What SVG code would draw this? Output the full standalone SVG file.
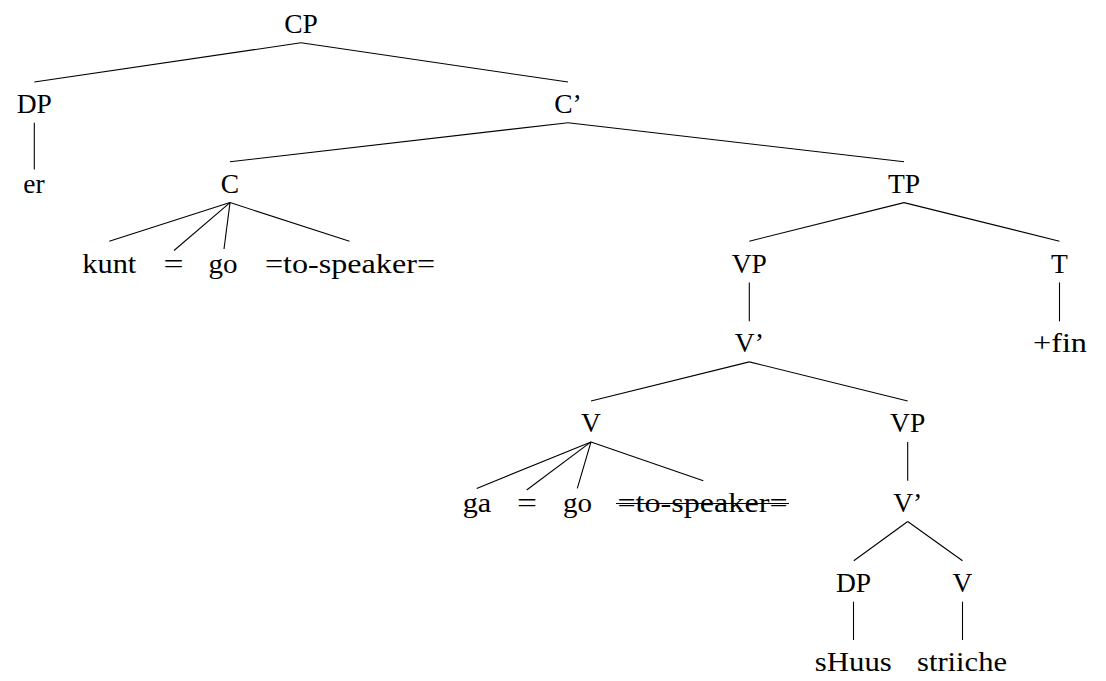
<svg xmlns="http://www.w3.org/2000/svg" width="1106" height="681" viewBox="0 0 1106 681">
  <style>
    .lbl { font-family: "Liberation Serif", "Times New Roman", serif; font-size: 27.5px; fill: #000; text-anchor: middle; }
    .edge { stroke: #000; stroke-width: 1.1; fill: none; }
    .strike { stroke: #000; stroke-width: 1; }
  </style>
  <rect width="1106" height="681" fill="#fff"/>

  <!-- tree edges: parent south anchor to child north anchor -->
  <g id="edges">
    <line class="edge" x1="301" y1="42.8" x2="34.3" y2="82"/>
    <line class="edge" x1="301" y1="42.8" x2="568" y2="82"/>
    <line class="edge" x1="34.3" y1="122.7" x2="34.3" y2="169.5"/>
    <line class="edge" x1="568" y1="122.7" x2="230" y2="161.7"/>
    <line class="edge" x1="568" y1="122.7" x2="904" y2="161.7"/>
    <line class="edge" x1="230" y1="202.6" x2="109.3" y2="241.2"/>
    <line class="edge" x1="230" y1="202.6" x2="174" y2="250.5"/>
    <line class="edge" x1="230" y1="202.6" x2="224" y2="249"/>
    <line class="edge" x1="230" y1="202.6" x2="349.5" y2="241.2"/>
    <line class="edge" x1="904" y1="202.6" x2="749.3" y2="241.2"/>
    <line class="edge" x1="904" y1="202.6" x2="1059.5" y2="241.2"/>
    <line class="edge" x1="749.3" y1="282.4" x2="749.3" y2="321.3"/>
    <line class="edge" x1="1059.5" y1="282.4" x2="1059.5" y2="321.3"/>
    <line class="edge" x1="749.3" y1="361.9" x2="591" y2="401"/>
    <line class="edge" x1="749.3" y1="361.9" x2="907.7" y2="401"/>
    <line class="edge" x1="591" y1="441.9" x2="476.7" y2="488.4"/>
    <line class="edge" x1="591" y1="441.9" x2="526.7" y2="490"/>
    <line class="edge" x1="591" y1="441.9" x2="577.3" y2="488.4"/>
    <line class="edge" x1="591" y1="441.9" x2="703.3" y2="480.7"/>
    <line class="edge" x1="907.7" y1="441.9" x2="907.7" y2="480.7"/>
    <line class="edge" x1="907.7" y1="521.5" x2="853.8" y2="560.7"/>
    <line class="edge" x1="907.7" y1="521.5" x2="962.5" y2="560.7"/>
    <line class="edge" x1="853.5" y1="601.7" x2="853.5" y2="640"/>
    <line class="edge" x1="962.5" y1="601.7" x2="962.5" y2="640"/>
  </g>

  <!-- level 1 -->
  <g id="n-cp"><text class="lbl" x="301" y="33.3">CP</text></g>
  <!-- level 2 -->
  <g id="n-dp1"><text class="lbl" x="34.3" y="113.3">DP</text></g>
  <g id="n-cbar"><text class="lbl" x="568" y="113.3">C’</text></g>
  <!-- level 3 -->
  <g id="n-er"><text class="lbl" x="34" y="192.5">er</text></g>
  <g id="n-c"><text class="lbl" x="230" y="193">C</text></g>
  <g id="n-tp"><text class="lbl" x="904" y="193">TP</text></g>
  <!-- level 4 -->
  <g id="n-kunt"><text class="lbl" x="109.3" y="272.5" textLength="54" lengthAdjust="spacingAndGlyphs">kunt</text></g>
  <g id="n-eq1"><text class="lbl" x="173.5" y="272.5" textLength="20" lengthAdjust="spacingAndGlyphs">=</text></g>
  <g id="n-go1"><text class="lbl" x="223" y="272.5" textLength="29" lengthAdjust="spacingAndGlyphs">go</text></g>
  <g id="n-tospk1"><text class="lbl" x="350" y="272.5" textLength="170" lengthAdjust="spacingAndGlyphs">=to-speaker=</text></g>
  <g id="n-vp1"><text class="lbl" x="749.3" y="272.5">VP</text></g>
  <g id="n-t"><text class="lbl" x="1059.5" y="272.5">T</text></g>
  <!-- level 5 -->
  <g id="n-vbar1"><text class="lbl" x="749.3" y="352.3">V’</text></g>
  <g id="n-fin"><text class="lbl" x="1060" y="352.3" textLength="54" lengthAdjust="spacingAndGlyphs">+fin</text></g>
  <!-- level 6 -->
  <g id="n-v1"><text class="lbl" x="591" y="432.3">V</text></g>
  <g id="n-vp2"><text class="lbl" x="907.7" y="432.3">VP</text></g>
  <!-- level 7 -->
  <g id="n-ga"><text class="lbl" x="477" y="511.7" textLength="28.5" lengthAdjust="spacingAndGlyphs">ga</text></g>
  <g id="n-eq2"><text class="lbl" x="527" y="511.7" textLength="20" lengthAdjust="spacingAndGlyphs">=</text></g>
  <g id="n-go2"><text class="lbl" x="577.5" y="511.7" textLength="29" lengthAdjust="spacingAndGlyphs">go</text></g>
  <g id="n-tospk2">
    <text class="lbl" x="702.5" y="511.7" textLength="170" lengthAdjust="spacingAndGlyphs">=to-speaker=</text>
    <line class="strike" x1="616" y1="503.5" x2="789" y2="503.5"/>
  </g>
  <g id="n-vbar2"><text class="lbl" x="907.7" y="511.7">V’</text></g>
  <!-- level 8 -->
  <g id="n-dp2"><text class="lbl" x="853.5" y="592">DP</text></g>
  <g id="n-v2"><text class="lbl" x="962.5" y="592">V</text></g>
  <!-- level 9 -->
  <g id="n-shuus"><text class="lbl" x="853.3" y="671" textLength="77" lengthAdjust="spacingAndGlyphs">sHuus</text></g>
  <g id="n-striiche"><text class="lbl" x="962" y="671" textLength="90" lengthAdjust="spacingAndGlyphs">striiche</text></g>
</svg>
